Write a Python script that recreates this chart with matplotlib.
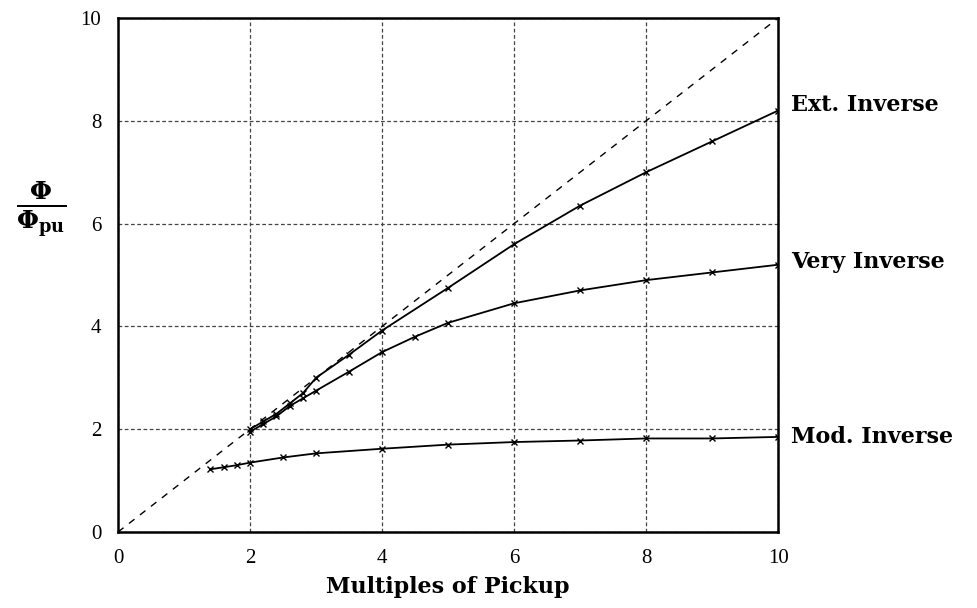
import matplotlib
matplotlib.use('Agg')
import matplotlib.pyplot as plt

# flux ratio vs multiples of pickup for three relay curves
ext_x = [2.0, 2.2, 2.4, 2.6, 2.8, 3.0, 3.5, 4.0, 5.0, 6.0, 7.0, 8.0, 9.0, 10.0]
ext_y = [2.0, 2.15, 2.3, 2.5, 2.7, 3.0, 3.45, 3.92, 4.75, 5.6, 6.35, 7.0, 7.6, 8.2]

very_x = [2.0, 2.2, 2.4, 2.6, 2.8, 3.0, 3.5, 4.0, 4.5, 5.0, 6.0, 7.0, 8.0, 9.0, 10.0]
very_y = [1.95, 2.1, 2.25, 2.45, 2.6, 2.75, 3.12, 3.5, 3.8, 4.07, 4.45, 4.7, 4.9, 5.05, 5.2]

mod_x = [1.4, 1.6, 1.8, 2.0, 2.5, 3.0, 4.0, 5.0, 6.0, 7.0, 8.0, 9.0, 10.0]
mod_y = [1.22, 1.26, 1.3, 1.35, 1.45, 1.53, 1.62, 1.7, 1.75, 1.78, 1.82, 1.82, 1.85]

# dashed reference line y = x
ref_x = [0, 10]
ref_y = [0, 10]

curve_names = ['Ext. Inverse', 'Very Inverse', 'Mod. Inverse']
label_y = [8.3, 5.25, 1.85]

ticks = [0, 2, 4, 6, 8, 10]

plt.rcParams['font.family'] = ['Liberation Serif', 'DejaVu Serif']
plt.rcParams['mathtext.fontset'] = 'dejavuserif'

fig = plt.figure(figsize=(9.78, 6.08), dpi=100)
ax = fig.add_axes([0.1207, 0.125, 0.675, 0.8454])

ax.plot(ref_x, ref_y, color='black', lw=1.0, dashes=(5, 5))
for xs, ys in [(ext_x, ext_y), (very_x, very_y), (mod_x, mod_y)]:
    ax.plot(xs, ys, color='black', lw=1.3, marker='x', ms=5, mew=1.0)

ax.set_xlim(0, 10)
ax.set_ylim(0, 10)
ax.set_xticks(ticks)
ax.set_yticks(ticks)
ax.tick_params(length=0, labelsize=15, pad=12)
ax.grid(True, color='#444444', lw=0.9, ls=(0, (3, 2)))
for s in ax.spines.values():
    s.set_linewidth(1.8)

for name, yy in zip(curve_names, label_y):
    ax.text(10.2, yy, name, fontsize=16, fontweight='bold', va='center',
            family='DejaVu Serif', clip_on=False)

ax.set_xlabel('Multiples of Pickup', fontsize=16, fontweight='bold',
              family='DejaVu Serif', labelpad=6)
fig.text(0.042, 0.655, r'$\mathbf{\frac{\Phi}{\Phi_{pu}}}$', fontsize=26,
         ha='center', va='center')

fig.savefig('out.png', dpi=100)
